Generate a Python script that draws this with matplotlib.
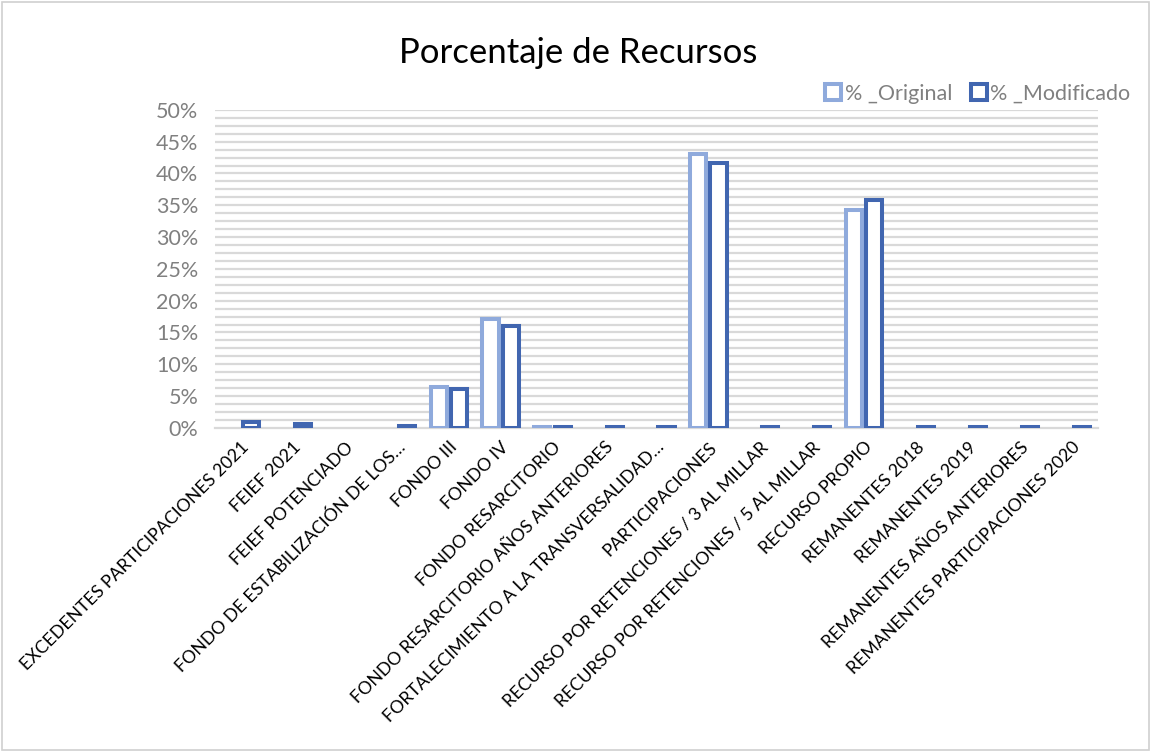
import numpy as np
import matplotlib
matplotlib.use("Agg")
import matplotlib.pyplot as plt
from matplotlib.patches import Rectangle

plt.rcParams['font.family'] = ['Lato', 'DejaVu Sans']

categorias = [
    "EXCEDENTES PARTICIPACIONES 2021",
    "FEIEF 2021",
    "FEIEF POTENCIADO",
    "FONDO DE ESTABILIZACIÓN DE LOS…",
    "FONDO III",
    "FONDO IV",
    "FONDO RESARCITORIO",
    "FONDO RESARCITORIO AÑOS ANTERIORES",
    "FORTALECIMIENTO A LA TRANSVERSALIDAD…",
    "PARTICIPACIONES",
    "RECURSO POR RETENCIONES / 3 AL MILLAR",
    "RECURSO POR RETENCIONES / 5 AL MILLAR",
    "RECURSO PROPIO",
    "REMANENTES 2018",
    "REMANENTES 2019",
    "REMANENTES AÑOS ANTERIORES",
    "REMANENTES PARTICIPACIONES 2020",
]
# Werte in Prozent
original = [0, 0, 0, 0, 6.5, 17.1, 0.15, 0, 0, 43.0, 0, 0, 34.3, 0, 0, 0, 0]
modificado = [1.0, 0.6, 0, 0.3, 6.1, 16.0, 0.15, 0.15, 0.15, 41.6, 0.15, 0.15,
              35.8, 0.15, 0.15, 0.15, 0.15]

c_orig = "#8FAADC"
c_mod = "#4166B0"
gris = "#808080"

fig = plt.figure(figsize=(11.51, 7.52), dpi=100)
fig.patches.append(Rectangle((0.002, 0.002), 0.996, 0.996, transform=fig.transFigure,
                             fill=False, edgecolor="#d0d0d0", linewidth=1.2))
ax = fig.add_axes([0.1868, 0.431, 0.767, 0.4229])

x = np.arange(len(categorias))
orig_np = np.array(original)
mod_np = np.array(modificado)
w = 0.31
off = 0.195

m1 = orig_np > 0
m2 = mod_np > 0
ax.bar(x[m1] - off, orig_np[m1], width=w, facecolor="white", edgecolor=c_orig,
       linewidth=2.9, zorder=3)
ax.bar(x[m2] + off, mod_np[m2], width=w, facecolor="white", edgecolor=c_mod,
       linewidth=2.9, zorder=3)

# Gitterlinien alle 1,25 %
for g in np.arange(1.25, 50.01, 1.25):
    ax.axhline(g, color="#d9d9d9", linewidth=1.6, zorder=1)

ax.set_xlim(-0.5, len(categorias) - 0.5)
ax.set_ylim(0, 50)
ax.set_yticks(np.arange(0, 51, 5))
ax.set_yticklabels([f"{v}%" for v in range(0, 51, 5)], fontsize=15.5, color=gris)
ax.set_xticks(x)
ax.set_xticklabels(categorias, rotation=45, ha="right", rotation_mode="anchor",
                   fontsize=12.8, color="black")
ax.tick_params(axis="both", length=0)
ax.tick_params(axis="y", pad=12)
ax.tick_params(axis="x", pad=8)
for s in ["top", "right", "left"]:
    ax.spines[s].set_visible(False)
ax.spines["bottom"].set_color("#d9d9d9")
ax.spines["bottom"].set_linewidth(1.6)

fig.text(0.502, 0.93, "Porcentaje de Recursos", ha="center", va="center",
         fontsize=25, color="black")

# Legende
h1 = plt.Line2D([], [], marker="s", linestyle="none", markersize=12,
                markerfacecolor="white", markeredgecolor=c_orig, markeredgewidth=2.9)
h2 = plt.Line2D([], [], marker="s", linestyle="none", markersize=12,
                markerfacecolor="white", markeredgecolor=c_mod, markeredgewidth=2.9)
leg = fig.legend([h1, h2], ["% _Original", "% _Modificado"], loc="center right",
                 bbox_to_anchor=(0.999, 0.875), ncol=2, frameon=False, fontsize=15.5,
                 handletextpad=0.05, columnspacing=0.7, handlelength=1.0)
for t in leg.get_texts():
    t.set_color(gris)

fig.savefig("out.png", dpi=100)
